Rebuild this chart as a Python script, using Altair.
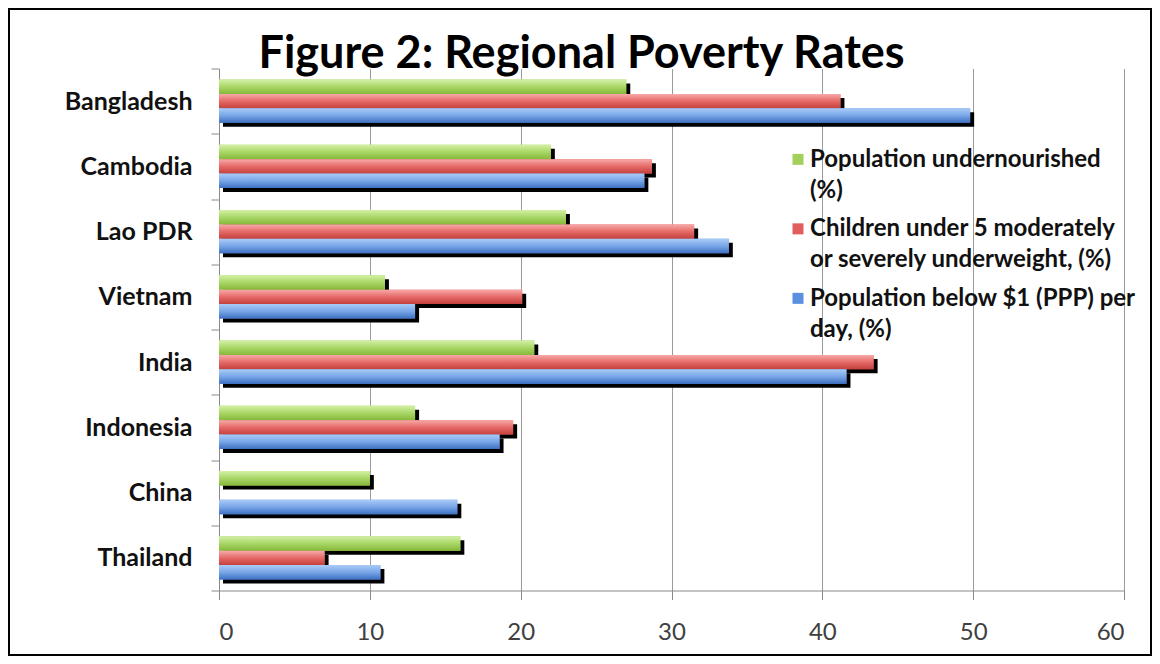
import json
import altair as alt
import pandas as pd

# ---- data ----
countries = ["Bangladesh", "Cambodia", "Lao PDR", "Vietnam", "India", "Indonesia", "China", "Thailand"]
series = [
    "Population undernourished (%)",
    "Children under 5 moderately or severely underweight, (%)",
    "Population below $1 (PPP) per day, (%)",
]
undernourished = [27.0, 22.0, 23.0, 11.0, 20.9, 13.0, 10.0, 16.0]
underweight = [41.2, 28.7, 31.5, 20.1, 43.4, 19.5, None, 7.0]
below_1_dollar = [49.8, 28.2, 33.8, 13.0, 41.6, 18.6, 15.8, 10.7]
x_ticks = [0, 10, 20, 30, 40, 50, 60]
legend_lines = [
    ["Population undernourished", "(%)"],
    ["Children under 5 moderately", "or severely underweight, (%)"],
    ["Population below $1 (PPP) per", "day, (%)"],
]
flat_colors = ["#a2d05a", "#e05e5c", "#5b8fdf"]
gradient_stops = [
    ["#d3f0a6", "#a9d766", "#86b83a"],
    ["#f8aaa9", "#e56a68", "#c4403d"],
    ["#aacbf6", "#78a6e8", "#3f71c2"],
]

rows = []
for s, vals in zip(series, [undernourished, underweight, below_1_dollar]):
    for c, v in zip(countries, vals):
        if v is not None:
            rows.append({"country": c, "series": s, "value": v})
df = pd.DataFrame(rows)

label_expr = " : ".join(
    f"datum.label === {json.dumps(s)} ? {json.dumps(l)}" for s, l in zip(series, legend_lines)
) + " : datum.label"

y_enc = alt.Y(
    "country:N",
    sort=countries,
    scale=alt.Scale(domain=countries, paddingInner=0, paddingOuter=0),
    axis=alt.Axis(
        title=None, tickBand="extent", tickSize=8, tickColor="#8a8a8a", domainColor="#8a8a8a",
        labelFont="Lato", labelFontSize=25, labelFontWeight="bold", labelColor="#111111",
        labelPadding=19, grid=False,
    ),
)
x_enc = alt.X(
    "value:Q",
    scale=alt.Scale(domain=[0, 60], nice=False),
    axis=alt.Axis(
        title=None, values=x_ticks, grid=True, gridColor="#9a9a9a", gridWidth=1,
        domainColor="#8a8a8a", tickColor="#8a8a8a", tickSize=9,
        labelFont="Lato", labelFontSize=24, labelColor="#404040", labelPadding=21,
    ),
)

base = alt.Chart(df).encode(y=y_enc, x=x_enc)

off_pad = 0.77
shadow = base.mark_bar(color="black", xOffset=4, x2Offset=4).encode(
    yOffset=alt.YOffset(
        "series:N", sort=series,
        scale=alt.Scale(domain=series, range=[4, 69.25], paddingInner=0, paddingOuter=off_pad),
    )
)

main_off = alt.YOffset(
    "series:N", sort=series,
    scale=alt.Scale(domain=series, paddingInner=0, paddingOuter=off_pad),
)

flat = base.mark_bar().encode(
    yOffset=main_off,
    color=alt.Color(
        "series:N",
        scale=alt.Scale(domain=series, range=flat_colors),
        legend=alt.Legend(
            title=None, orient="none", legendX=567, legendY=86, padding=0,
            labelExpr=label_expr, labelFont="Lato", labelFontSize=24, labelFontWeight="bold",
            labelColor="#111111", labelLimit=600, labelBaseline="alphabetic", labelOffset=0,
            symbolType="M-1,-2.3H1V-0.3H-1Z", symbolSize=121, symbolStrokeWidth=0,
            rowPadding=14.5,
        ),
    ),
)

grad_layers = []
for s, stops in zip(series, gradient_stops):
    grad = alt.LinearGradient(
        gradient="linear", x1=0, x2=0, y1=0, y2=1,
        stops=[alt.GradientStop(offset=o, color=c) for o, c in zip([0, 0.5, 1], stops)],
    )
    grad_layers.append(
        base.transform_filter(alt.FieldEqualPredicate(field="series", equal=s))
        .mark_bar(color=grad)
        .encode(yOffset=main_off)
    )

frame = alt.Chart(pd.DataFrame({"k": [0]})).mark_rect(
    fill=None, stroke="black", strokeWidth=2
).encode(x=alt.value(-210), x2=alt.value(932), y=alt.value(-59.5), y2=alt.value(586.5))

chart = (
    alt.layer(shadow, flat, *grad_layers, frame)
    .resolve_scale(yOffset="independent")
    .properties(
        width=905, height=522,
        autosize=alt.AutoSizeParams(type="none"),
        padding={"left": 211, "top": 60.5, "right": 28, "bottom": 65.5},
        title=alt.Title(
            "Figure 2: Regional Poverty Rates", font="Lato", fontSize=45, fontWeight="bold",
            anchor="middle", frame="group", dx=-90, dy=105, baseline="alphabetic", offset=0,
            color="black",
        ),
    )
    .configure(view={"stroke": None}, style={"guide-label": {"lineHeight": 31}})
)

chart.save("out.html", embed_options={"renderer": "svg", "actions": False})
